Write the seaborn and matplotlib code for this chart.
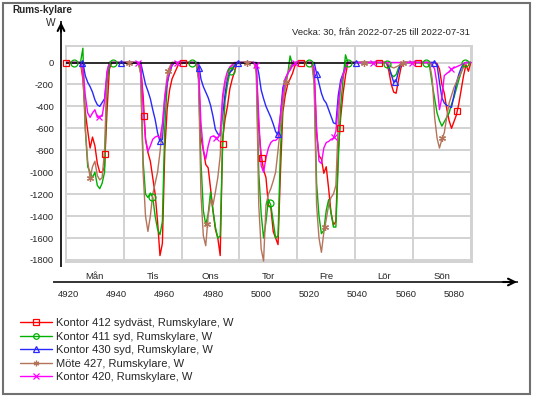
import numpy as np
import pandas as pd
import seaborn as sns
import matplotlib.pyplot as plt
import matplotlib.transforms as mtrans
from matplotlib.lines import Line2D
from matplotlib.patches import Rectangle

# hour-of-year of the first sample (Monday 2022-07-25)
start_hour = 4919
days = ['Mån', 'Tis', 'Ons', 'Tor', 'Fre', 'Lör', 'Sön']
xtick_vals = [4920, 4940, 4960, 4980, 5000, 5020, 5040, 5060, 5080]
ytick_vals = [0, -200, -400, -600, -800, -1000, -1200, -1400, -1600, -1800]

labels = ['Kontor 412 sydväst, Rumskylare, W',
          'Kontor 411 syd, Rumskylare, W',
          'Kontor 430 syd, Rumskylare, W',
          'Möte 427, Rumskylare, W',
          'Kontor 420, Rumskylare, W']
colors = ['#ff0000', '#00b000', '#2828ff', '#b4745a', '#ff00ff']
markers = ['s', 'o', '^', (6, 2, 0), 'x']

# hourly values (W), one list per day
red = [
    [0, 0, 0, 0, 0, 0, 0, -150, -450, -620, -780, -680, -760, -920, -1000, -1000, -950, -450, -60, 0, 0, 0, 0, 0],
    [0, 0, 0, 0, 0, 0, 0, -50, -300, -700, -820, -900, -1050, -1200, -1450, -1760, -1650, -800, -420, -250, -150, -100, -50, 0],
    [0, 0, 0, 0, 0, 0, 0, -100, -680, -800, -930, -960, -1150, -1350, -1520, -1600, -1760, -700, -520, -400, -240, -150, -80, 0],
    [0, 0, 0, 0, 0, 0, 0, -50, -600, -840, -980, -1050, -1300, -1320, -1540, -1600, -1660, -1000, -450, -300, -200, -150, -100, -30],
    [0, 0, 0, 0, 0, 0, 0, -100, -650, -850, -880, -1010, -950, -1150, -1370, -1480, -1450, -800, -500, -280, -120, 0, 0, 0],
    [0, 0, 0, 0, 0, 0, 0, 0, 0, 0, 0, 0, 0, 0, -80, -200, -270, -280, -160, -50, 0, 0, 0, 0],
    [0, 0, 0, 0, 0, 0, 0, 0, 0, 0, -10, -60, -200, -280, -420, -530, -600, -540, -480, -380, -250, -120, -20, -80],
]
green = [
    [0, 0, 0, 0, 0, 0, 0, 130, -600, -950, -1000, -1050, -1000, -1120, -1150, -1100, -1000, -200, -30, 0, 0, 0, 0, 0],
    [0, 0, 0, 0, 0, 0, 0, -100, -900, -1200, -1230, -1190, -1230, -1400, -1520, -1570, -1450, -600, -200, -80, 0, 0, 0, 0],
    [0, 0, 0, 0, 0, 0, 0, -150, -900, -1350, -1480, -1380, -1180, -1350, -1500, -1600, -1580, -750, -350, -200, -90, -50, -20, 0],
    [0, 0, 0, 0, 0, 0, 0, -80, -1000, -1380, -1600, -1450, -1250, -1300, -1450, -1600, -1580, -800, -380, -220, -110, 60, -20, 0],
    [0, 0, 0, 0, 0, 0, 0, -150, -1100, -1400, -1560, -1530, -1350, -1250, -1370, -1500, -1500, -900, -400, -150, 70, 0, 0, 0],
    [0, 0, 0, 0, 0, 0, 0, 0, 0, 0, 0, 0, 0, 0, -40, -110, -130, -110, -50, -10, 0, 0, 0, 0],
    [0, 0, 0, 0, 0, 0, 0, -50, -200, -330, -460, -530, -580, -540, -500, -460, -380, -320, -240, -160, -90, -30, 0, 0],
]
blue = [
    [0, 0, 0, 0, 0, 0, 0, 0, -120, -180, -220, -270, -340, -385, -400, -365, -330, -120, 0, 0, 0, 0, 0, 0],
    [0, 0, 0, 0, 0, 0, 0, 0, -100, -200, -260, -330, -430, -520, -640, -720, -700, -350, -180, -90, -30, 0, 0, 0],
    [0, 0, 0, 0, 0, 0, 0, 0, -150, -220, -270, -320, -390, -490, -610, -650, -670, -480, -290, -140, -90, -70, -30, 0],
    [0, 0, 0, 0, 0, 0, 0, 0, -100, -250, -330, -400, -450, -500, -560, -630, -660, -480, -230, -150, -100, -60, -20, 0],
    [0, 0, 0, 0, 0, 0, 0, 0, -100, -190, -280, -340, -370, -430, -490, -550, -560, -300, -160, -100, -40, 0, 0, 0],
    [0, 0, 0, 0, 0, 0, 0, 0, 0, 0, 0, 0, 0, 0, -40, -110, -180, -170, -80, -10, 0, 0, 0, 0],
    [0, 0, 0, 0, 0, 0, 0, 0, 0, 0, -20, -180, -320, -370, -390, -400, -410, -300, -190, -110, -50, -10, 0, 0],
]
brown = [
    [0, 0, 0, 0, 0, 0, 0, -100, -600, -900, -1050, -950, -900, -1030, -1070, -1050, -800, -100, 0, 0, 0, 0, 0, 0],
    [0, 0, 0, 0, 0, 0, 0, -100, -1000, -1400, -1540, -1400, -1200, -1100, -1000, -820, -600, -300, -120, -40, 0, 0, 0, 0],
    [0, 0, 0, 0, 0, 0, 0, -150, -1200, -1580, -1670, -1400, -1250, -1300, -1180, -1050, -850, -350, -200, -120, -60, -30, 0, 0],
    [0, 0, 0, 0, 0, 0, 0, -100, -1300, -1700, -1810, -1300, -1200, -1150, -1080, -1000, -800, -580, -370, -200, -100, -40, 0, 0],
    [0, 0, 0, 0, 0, 0, 0, -200, -1300, -1600, -1730, -1550, -1430, -1300, -1230, -1200, -1120, -550, -200, -110, -50, 0, 0, 0],
    [0, 0, 0, 0, 0, 0, 0, 0, 0, 0, 0, 0, 0, 0, -20, -40, -50, -40, -30, -10, 0, 0, 0, 0],
    [0, 0, 0, 0, 0, 0, 0, -20, -150, -500, -690, -780, -700, -640, -500, -370, -300, -230, -180, -130, -90, -40, 0, 0],
]
pink = [
    [0, 0, 0, 0, 0, 0, 0, -50, -300, -460, -500, -460, -430, -500, -490, -490, -350, -80, 0, 0, 0, 0, 0, 0],
    [0, 0, 0, 0, 0, 0, 0, -20, -400, -700, -810, -760, -700, -680, -670, -690, -560, -320, -170, -80, -20, 0, 0, 0],
    [0, 0, 0, 0, 0, 0, 0, -30, -550, -800, -880, -760, -680, -670, -680, -690, -640, -300, -160, -80, -40, -20, 0, 0],
    [0, 0, 0, 0, 0, 0, 0, -30, -500, -940, -1000, -870, -780, -730, -710, -710, -690, -480, -280, -150, -100, -70, -30, 0],
    [0, 0, 0, 0, 0, 0, 0, -50, -600, -900, -920, -780, -730, -720, -700, -690, -630, -380, -200, -120, -50, 0, 0, 0],
    [0] * 24,
    [0, 0, 0, 0, 0, 0, 0, 0, -20, -60, -200, -430, -320, -120, -100, -85, -60, -50, -40, -30, -20, -10, 0, 0],
]

all_series = [red, green, blue, brown, pink]
hours = np.arange(start_hour, start_hour + 7 * 24 + 1)

frames = []
for lab, s in zip(labels, all_series):
    vals = np.concatenate([np.array(d, dtype=float) for d in s] + [[0.0]])
    frames.append(pd.DataFrame({'hour': hours, 'W': vals, 'serie': lab}))
df = pd.concat(frames, ignore_index=True)

sns.set_style('white')
plt.rcParams['font.family'] = ['Liberation Sans', 'DejaVu Sans']
fs = 6.8

W, H = 534, 398
fig = plt.figure(figsize=(W / 100, H / 100), dpi=100)

# pixel -> data helpers (layout only)
px_per_h = 2.4095
def hx(px):
    return start_hour + (px - 66) / px_per_h
def wy(py):
    return (62.5 - py) / 0.1097
def fx(px):
    return px / W
def fy(py):
    return 1 - py / H

# main plot area
ax = fig.add_axes([fx(66), fy(262), fx(472) - fx(66), fy(46) - fy(262)])
ax.set_xlim(hx(66), hx(472))
ax.set_ylim(wy(262), wy(46))
day_bounds = [start_hour + 24 * k for k in range(1, 8)]
ax.set_xticks(day_bounds)
ax.set_yticks(ytick_vals)
ax.grid(True, color='#d2d2d2', lw=1.4)
ax.tick_params(length=0, labelbottom=False, labelleft=False)
for sp in ax.spines.values():
    sp.set_color('#d2d2d2')
    sp.set_linewidth(1.4)

sns.lineplot(data=df, x='hour', y='W', hue='serie', hue_order=labels,
             palette=colors, lw=1.0, errorbar=None, legend=False, ax=ax, zorder=3)
# zero line over the working days
ax.hlines(0, hx(66), day_bounds[4], color='black', lw=1.1, zorder=3.5)

# markers spaced along each series
marker_start = [4919.0, 4922.4, 4925.6, 4929.0, 4932.7]
marker_step = 16.24
for i, lab in enumerate(labels):
    sub = df[df['serie'] == lab]
    mx = np.arange(marker_start[i], hours[-1], marker_step)
    my = np.interp(mx, sub['hour'], sub['W'])
    ax.plot(mx, my, ls='none', marker=markers[i], ms=5, mfc='none',
            mec=colors[i], mew=0.9, clip_on=False, zorder=4)
ax.set_xlabel('')
ax.set_ylabel('')

# left value axis
axL = fig.add_axes([fx(61), fy(266), 0.002, fy(22) - fy(266)])
axL.set_ylim(wy(266), wy(22))
axL.set_xticks([])
axL.set_yticks(ytick_vals)
axL.set_yticklabels([str(v) for v in ytick_vals], fontsize=fs)
axL.tick_params(axis='y', direction='out', length=4, width=1, pad=1, color='#222222')
for k in ['top', 'right', 'bottom']:
    axL.spines[k].set_visible(False)
axL.spines['left'].set_linewidth(1.4)
axL.spines['left'].set_color('#222222')
axL.patch.set_visible(False)
axL.annotate('', xy=(0, 1.0), xytext=(0, 0.96), xycoords='axes fraction',
             arrowprops=dict(arrowstyle='->', lw=1.5, color='black',
                             mutation_scale=12, shrinkA=0, shrinkB=0))

# bottom hour axis with day names
axB = fig.add_axes([fx(54), fy(282), fx(517) - fx(54), fy(262) - fy(282)])
axB.set_xlim(hx(54), hx(517))
axB.set_ylim(0, 1)
axB.set_yticks([])
axB.set_xticks(xtick_vals)
axB.set_xticklabels([str(v) for v in xtick_vals], fontsize=fs)
axB.set_xticks(day_bounds, minor=True)
axB.tick_params(axis='x', which='major', direction='out', length=4, width=1, pad=2, color='#222222')
axB.tick_params(axis='x', which='minor', direction='in', length=4, width=1, color='#222222')
for k in ['top', 'right', 'left']:
    axB.spines[k].set_visible(False)
axB.spines['bottom'].set_linewidth(1.4)
axB.spines['bottom'].set_color('#333333')
axB.patch.set_visible(False)
trans = mtrans.blended_transform_factory(axB.transData, axB.transAxes)
for k, d in enumerate(days):
    axB.text(start_hour + 24 * k + 12, 0.28, d, transform=trans,
             ha='center', va='center', fontsize=fs)
axB.annotate('', xy=(1.0, 0), xytext=(0.97, 0), xycoords='axes fraction',
             arrowprops=dict(arrowstyle='->', lw=1.5, color='black',
                             mutation_scale=12, shrinkA=0, shrinkB=0))

# texts
fig.text(fx(12), fy(10), 'Rums-kylare', fontsize=7.2, fontweight='bold', va='center')
fig.text(fx(55), fy(23), 'W', fontsize=fs + 0.5, ha='right', va='center')
fig.text(fx(470), fy(32), 'Vecka: 30, från 2022-07-25 till 2022-07-31',
         fontsize=fs, ha='right', va='center')

# legend
handles = [Line2D([0], [0], color=c, lw=1, marker=m, ms=4, mfc='none', mec=c, mew=0.9)
           for c, m in zip(colors, markers)]
fig.legend(handles, labels, loc='upper left', bbox_to_anchor=(fx(20), fy(318)),
           frameon=False, fontsize=8, handlelength=2.9, handletextpad=0.3,
           labelspacing=0.32, borderaxespad=0, borderpad=0)

# outer frame
fig.patches.append(Rectangle((fx(3), fy(394)), fx(530) - fx(3), fy(3) - fy(394),
                             transform=fig.transFigure, fill=False,
                             edgecolor='#707070', lw=1.5))

fig.savefig('out.png', dpi=100)
